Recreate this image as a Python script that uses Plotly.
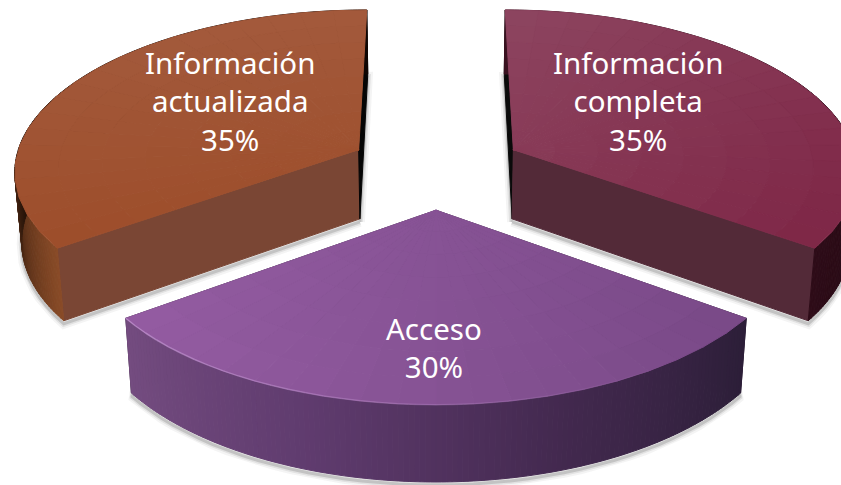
import math
import plotly.graph_objects as go

# ---- data ----
categories = ["Información<br>completa", "Acceso", "Información<br>actualizada"]
values = [35, 30, 35]

# ---- colours ----
top_colors = [("#8d4560", "#7e2646"), ("#945ca2", "#794987"), ("#a35a3c", "#9d4d2a")]
side_colors = [["#3a1220", "#1f0a12", "#2e0c18"],
               ["#2c1e38", "#43294f", "#5f3b6e", "#744c80"],
               ["#8a4c28", "#1a0c05", "#0f0603", "#0f0603"]]
start_face = ["#0a0a0a", "#3a2a40", "#7a4634"]
end_face = ["#532a38", "#3a2a40", "#050505"]
gradient_dir = [(0.55, 0.85), (1.0, 0.1), (0.1, 1.0)]
label_xy = [(638, 101), (434, 347), (230, 101)]

# ---- projection parameters ----
CX, CY, K, D, R, E, H, M = 436.0, 168.0, 0.465, 2900.0, 345.0, 88.0, 71.0, 0.68


def project(x, y, z=0.0):
    s = D / (D + y + z * M)
    return CX + x * s, CY - y * K * s + z * s


def hex_rgb(c):
    return tuple(int(c[i:i + 2], 16) for i in (1, 3, 5))


def mix(a, b, u):
    u = max(0.0, min(1.0, u))
    ra, rb = hex_rgb(a), hex_rgb(b)
    return "rgb(%d,%d,%d)" % tuple(round(p + (q - p) * u) for p, q in zip(ra, rb))


def ramp(stops, u):
    u = max(0.0, min(1.0, u)) * (len(stops) - 1)
    i = min(int(u), len(stops) - 2)
    return mix(stops[i], stops[i + 1], u - i)


fig = go.Figure()


def poly(points, color):
    xs = [p[0] for p in points] + [points[0][0]]
    ys = [p[1] for p in points] + [points[0][1]]
    fig.add_trace(go.Scatter(x=xs, y=ys, mode="lines", fill="toself", fillcolor=color,
                             line=dict(color=color, width=1), hoverinfo="skip", showlegend=False))


def line(points, color, width):
    fig.add_trace(go.Scatter(x=[p[0] for p in points], y=[p[1] for p in points], mode="lines",
                             line=dict(color=color, width=width), hoverinfo="skip", showlegend=False))


total = sum(values)
angles = [0.0]
for v in values:
    angles.append(angles[-1] + v / total * 360.0)

# back slices first, front slice last
order = sorted(range(len(values)), key=lambda i: -math.cos(math.radians((angles[i] + angles[i + 1]) / 2)))
N_ARC, N_RAD, N_WALL = 40, 8, 140

for i in order:
    t0, t1 = math.radians(angles[i]), math.radians(angles[i + 1])
    mid = (t0 + t1) / 2
    ox, oy = E * math.sin(mid), E * math.cos(mid)

    def rim(t, r=R):
        return ox + r * math.sin(t), oy + r * math.cos(t)

    arc_t = [t0 + (t1 - t0) * j / N_ARC for j in range(N_ARC + 1)]
    wall_t = [t0 + (t1 - t0) * j / N_WALL for j in range(N_WALL + 1)]

    # soft shadow along the bottom outline
    outline = [project(ox, oy, H)] + [project(*rim(t), H) for t in arc_t] + [project(ox, oy, H)]
    shifted = [(p[0], p[1] + 3) for p in outline]
    for w, a in ((10, 0.05), (6, 0.09), (3, 0.16)):
        line(shifted, "rgba(40,40,40,%g)" % a, w)

    # radial cut faces
    for t, col in ((t0, start_face[i]), (t1, end_face[i])):
        e = rim(t)
        poly([project(ox, oy), project(*e), project(*e, H), project(ox, oy, H)], col)

    # outer wall
    for j in range(N_WALL):
        a, b = rim(wall_t[j]), rim(wall_t[j + 1])
        col = ramp(side_colors[i], (j + 0.5) / N_WALL)
        poly([project(*a), project(*b), project(*b, H), project(*a, H)], col)

    # top face as small gradient cells
    gx, gy = gradient_dir[i]
    pts = [project(ox, oy)] + [project(*rim(t)) for t in arc_t]
    proj_vals = [p[0] * gx + p[1] * gy for p in pts]
    lo, hi = min(proj_vals), max(proj_vals)
    for j in range(0, N_ARC, 2):
        ta, tb = arc_t[j], arc_t[j + 2]
        for m in range(N_RAD):
            r0, r1 = R * m / N_RAD, R * (m + 1) / N_RAD
            cell = [project(*rim(ta, r0)), project(*rim(tb, r0)), project(*rim(tb, r1)), project(*rim(ta, r1))]
            cxp = sum(p[0] for p in cell) / 4
            cyp = sum(p[1] for p in cell) / 4
            u = (cxp * gx + cyp * gy - lo) / (hi - lo)
            poly(cell, mix(top_colors[i][0], top_colors[i][1], u))

    # light rim on the front slice
    if i == order[-1]:
        for j in range(N_ARC):
            u = (j + 0.5) / N_ARC
            alpha = 0.75 * max(0.0, u - 0.15)
            line([project(*rim(arc_t[j])), project(*rim(arc_t[j + 1]))],
                 "rgba(205,160,220,%.3f)" % alpha, 1.5)

for i, (name, v) in enumerate(zip(categories, values)):
    fig.add_annotation(x=label_xy[i][0], y=label_xy[i][1], xref="x", yref="y",
                       text="%s<br>%d%%" % (name, v), showarrow=False,
                       font=dict(family="Noto Sans", size=29.5, color="#ffffff"), align="center")

fig.update_layout(width=841, height=485, margin=dict(l=0, r=0, t=0, b=0),
                  paper_bgcolor="#ffffff", plot_bgcolor="#ffffff", showlegend=False,
                  xaxis=dict(range=[0, 841], visible=False, fixedrange=True),
                  yaxis=dict(range=[485, 0], visible=False, fixedrange=True))
fig.write_html("out.html", config=dict(displayModeBar=False),
               post_script="document.body.style.margin='0';document.body.style.overflow='hidden';")
